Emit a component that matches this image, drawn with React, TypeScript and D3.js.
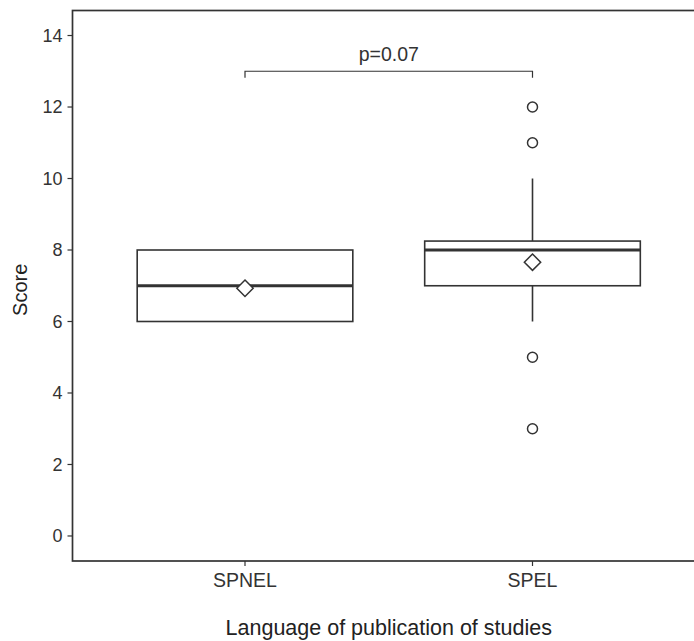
import React from "react";
import * as d3 from "d3";

const categories = ["SPNEL", "SPEL"];
const q1 = [6, 7];
const medians = [7, 8];
const q3 = [8, 8.25];
const whiskerLow = [6, 6];
const whiskerHigh = [8, 10];
const means = [6.93, 7.66];
const outliers: number[][] = [[], [3, 5, 11, 12]];
const yTicks = [0, 2, 4, 6, 8, 10, 12, 14];
const pLabel = "p=0.07";
const pY = 13;

const W = 694;
const H = 641;
const left = 72.5;
const right = 705;
const top = 10.5;
const bottom = 561;
const FONT = "'Liberation Sans', Arial, sans-serif";
const INK = "#333333";

export default function App() {
  const y = d3.scaleLinear().domain([-0.7, 14.7]).range([bottom, top]);
  const x = d3
    .scalePoint<string>()
    .domain(categories)
    .range([left, right])
    .padding(0.6);
  const step = x.step();
  const boxW = step * 0.75;
  const diamond = d3.symbol().type(d3.symbolDiamond2).size(170)();

  return (
    <svg
      width={W}
      height={H}
      style={{ position: "absolute", left: 0, top: 0, background: "#fff" }}
      fontFamily={FONT}
    >
      <rect x={0} y={0} width={W} height={H} fill="#fff" />
      {/* panel border */}
      <rect
        x={left}
        y={top}
        width={right - left}
        height={bottom - top}
        fill="none"
        stroke={INK}
        strokeWidth={1.7}
      />
      {/* y ticks */}
      {yTicks.map((t) => (
        <g key={t}>
          <line x1={left - 5} x2={left} y1={y(t)} y2={y(t)} stroke={INK} strokeWidth={1.2} />
          <text
            x={left - 10}
            y={y(t)}
            dy="0.36em"
            textAnchor="end"
            fontSize={18}
            fill={INK}
          >
            {t}
          </text>
        </g>
      ))}
      {/* x ticks */}
      {categories.map((c) => (
        <g key={c}>
          <line x1={x(c)} x2={x(c)} y1={bottom} y2={bottom + 5} stroke={INK} strokeWidth={1.2} />
          <text x={x(c)} y={bottom + 26} textAnchor="middle" fontSize={19.5} fill={INK}>
            {c}
          </text>
        </g>
      ))}
      {/* axis titles */}
      <text
        transform={`translate(27,${(top + bottom) / 2 + 4}) rotate(-90)`}
        textAnchor="middle"
        fontSize={20}
        fill="#222"
      >
        Score
      </text>
      <text x={(left + right) / 2} y={635} textAnchor="middle" fontSize={21.5} fill="#222">
        Language of publication of studies
      </text>
      {/* boxes */}
      {categories.map((c, i) => {
        const cx = x(c) as number;
        return (
          <g key={c}>
            {whiskerHigh[i] > q3[i] && (
              <line x1={cx} x2={cx} y1={y(q3[i])} y2={y(whiskerHigh[i])} stroke={INK} strokeWidth={1.6} />
            )}
            {whiskerLow[i] < q1[i] && (
              <line x1={cx} x2={cx} y1={y(q1[i])} y2={y(whiskerLow[i])} stroke={INK} strokeWidth={1.6} />
            )}
            <rect
              x={cx - boxW / 2}
              y={y(q3[i])}
              width={boxW}
              height={y(q1[i]) - y(q3[i])}
              fill="#fff"
              stroke={INK}
              strokeWidth={1.6}
            />
            <line
              x1={cx - boxW / 2}
              x2={cx + boxW / 2}
              y1={y(medians[i])}
              y2={y(medians[i])}
              stroke={INK}
              strokeWidth={3.2}
            />
            {outliers[i].map((o, j) => (
              <circle key={j} cx={cx} cy={y(o)} r={5} fill="none" stroke={INK} strokeWidth={1.5} />
            ))}
            <path
              d={diamond as string}
              transform={`translate(${cx},${y(means[i])})`}
              fill="#fff"
              stroke={INK}
              strokeWidth={1.5}
            />
          </g>
        );
      })}
      {/* significance bracket */}
      {(() => {
        const x1 = x(categories[0]) as number;
        const x2 = x(categories[1]) as number;
        const yb = y(pY);
        const yt = y(pY - 0.18);
        return (
          <g>
            <path
              d={`M${x1},${yt}L${x1},${yb}L${x2},${yb}L${x2},${yt}`}
              fill="none"
              stroke={INK}
              strokeWidth={1.2}
            />
            <text x={(x1 + x2) / 2} y={yb - 10} textAnchor="middle" fontSize={19.5} fill={INK}>
              {pLabel}
            </text>
          </g>
        );
      })()}
    </svg>
  );
}
